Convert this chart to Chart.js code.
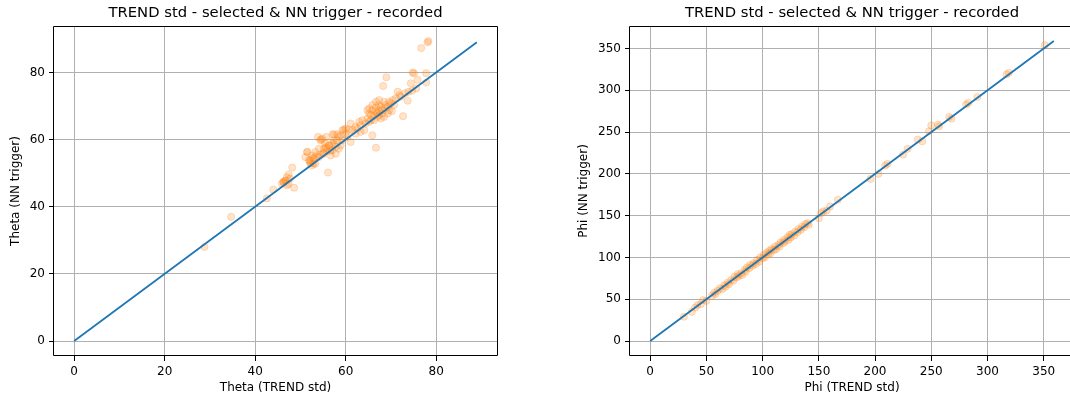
<!DOCTYPE html>
<html>
<head>
<meta charset="utf-8">
<script src="https://cdn.jsdelivr.net/npm/chart.js@4"></script>
<style>
  html, body { margin: 0; padding: 0; background: #fff; overflow: hidden; }
  #wrap { position: relative; width: 1070px; height: 401px; overflow: hidden; }
  canvas { position: absolute; top: 0; }
  #chartTheta { left: 0; }
  #chartPhi { left: 535px; }
</style>
</head>
<body>
<div id="wrap">
  <canvas id="chartTheta" width="535" height="401"></canvas>
  <canvas id="chartPhi" width="545" height="401"></canvas>
</div>
<script>
// theta: TREND std (x) vs NN trigger (y)
var thetaTrend = [28.8, 34.7, 42.6, 44.0, 45.9, 46.6, 47.7, 47.4, 48.2, 48.6, 47.0, 46.2, 51.5, 56.1,
  52.1, 52.8, 53.5, 54.3, 55.0, 55.7, 55.4, 54.6, 53.9, 55.7, 57.1, 58.2, 59.3, 60.0, 55.1, 56.6,
  56.3, 57.4, 52.9, 52.2,
  78.3, 78.1, 76.7, 74.8, 75.1, 77.8, 69.0, 68.3, 74.4, 75.6, 74.7, 77.8, 75.9, 73.7, 73.1, 73.9,
  72.7, 71.5, 70.4, 69.6, 70.7, 70.2, 69.3, 68.5, 67.4, 66.7, 65.9, 65.6, 65.2, 66.3, 67.0, 68.1,
  68.7, 67.4, 66.7, 67.8, 65.9, 66.7, 64.1, 63.3, 62.2, 61.1, 60.7, 59.6, 60.4, 61.1, 59.3, 58.5,
  57.4, 57.0, 56.3, 55.6, 54.8, 54.4, 55.2, 55.9, 57.0, 57.8, 56.7, 54.1, 53.0, 52.2, 51.5, 53.3,
  52.6, 51.9, 51.1, 47.0, 46.3, 47.4, 46.7,
  64.8, 63.7, 63.0, 63.3, 64.4, 65.2, 65.6, 66.3, 67.0, 67.4, 68.1, 68.9, 69.6, 70.0, 67.4, 66.7,
  65.9, 65.2, 64.8, 71.1, 71.9, 72.2, 67.8, 68.5, 69.3, 62.2, 61.5, 62.6, 60.0, 58.9, 58.1, 58.9,
  57.8, 58.5, 57.4, 54.1, 53.3, 52.6];
var thetaNN = [28.0, 37.0, 42.5, 45.1, 46.9, 47.7, 48.4, 49.6, 51.7, 45.7, 46.4, 47.4, 56.4, 50.2,
  54.0, 54.5, 55.0, 55.5, 56.0, 57.5, 59.0, 60.0, 60.8, 60.8, 61.6, 61.6, 62.8, 63.3, 55.7, 56.7,
  58.2, 58.7, 52.9, 52.9,
  89.4, 89.0, 87.3, 80.0, 79.8, 79.8, 78.6, 76.0, 76.8, 75.3, 74.6, 77.0, 77.8, 71.6, 73.8, 74.3,
  67.0, 74.3, 71.8, 71.3, 70.3, 68.5, 69.8, 71.3, 70.3, 68.3, 68.8, 67.3, 69.3, 67.3, 66.8, 67.8,
  69.3, 68.8, 69.6, 69.8, 61.3, 57.6, 62.8, 62.3, 61.8, 64.8, 63.0, 63.0, 60.8, 59.3, 59.8, 60.8,
  61.6, 58.8, 58.3, 57.8, 60.3, 59.8, 57.3, 56.6, 56.8, 55.8, 55.3, 54.8, 54.3, 53.3, 56.3, 52.8,
  52.3, 53.8, 54.8, 48.8, 47.3, 46.8, 47.8,
  66.3, 65.8, 65.3, 64.3, 64.8, 65.3, 65.8, 65.8, 68.0, 67.3, 68.8, 70.3, 68.8, 70.8, 71.8, 71.3,
  70.3, 67.8, 68.8, 72.3, 73.3, 72.8, 66.3, 66.8, 67.8, 63.8, 62.8, 63.3, 61.8, 61.3, 59.8, 58.3,
  57.8, 57.3, 59.8, 57.3, 56.3, 55.3];

// phi: TREND std (x) vs NN trigger (y)
var phiTrend = [30, 37, 40, 42, 45, 47, 50, 55, 57, 58, 60, 62, 64, 66, 67, 69, 70, 72, 74, 75,
  77, 78, 79, 81, 82, 84, 85, 86, 88, 89, 91, 92, 94, 95, 97, 98, 100, 101, 102, 104,
  105, 106, 107, 108, 110, 111, 112, 114, 115, 116, 118, 119, 120, 122, 123, 124, 125, 126, 128, 129,
  131, 132, 134, 135, 137, 138, 140, 141, 150, 152, 154, 157, 160, 167, 196, 203, 209, 211, 225, 229,
  238, 242, 248, 250, 256, 257, 266, 268, 281, 283, 291, 317, 319, 351];
var phiNN = [29, 35, 40, 43, 44, 49, 48, 54, 58, 56, 60, 63, 62, 67, 65, 70, 68, 73, 72, 77,
  76, 80, 78, 81, 79, 85, 83, 88, 87, 91, 90, 93, 92, 97, 95, 100, 99, 103, 100, 106,
  104, 108, 105, 110, 109, 113, 110, 115, 113, 118, 117, 121, 119, 124, 121, 127, 124, 128, 126, 131,
  130, 134, 133, 137, 136, 140, 141, 139, 147, 153, 155, 156, 161, 169, 194, 200, 210, 212, 223, 230,
  241, 239, 251, 258, 259, 257, 268, 266, 283, 285, 292, 319, 321, 354];

// identity line end points
var thetaLine = [0, 89];
var phiLine = [0, 359];

var thetaTicks = [0, 20, 40, 60, 80];
var phiTicks = [0, 50, 100, 150, 200, 250, 300, 350];

Chart.defaults.font.family = "'DejaVu Sans', sans-serif";
Chart.defaults.font.size = 12;
Chart.defaults.color = '#000';

function toPoints(xs, ys) {
    return xs.map(function(x, i) { return {x: x, y: ys[i]}; });
}

// matplotlib style box around the plot area
var framePlugin = {
    id: 'frame',
    afterDraw: function(chart) {
        var a = chart.chartArea, ctx = chart.ctx;
        var l = Math.round(a.left) - 0.5, r = Math.round(a.right) + 0.5;
        var t = Math.round(a.top) + 0.5, b = Math.round(a.bottom) - 0.5;
        ctx.save();
        ctx.lineWidth = 1;
        ctx.strokeStyle = '#000';
        ctx.beginPath();
        ctx.moveTo(l, t); ctx.lineTo(r, t); ctx.lineTo(r, b); ctx.lineTo(l, b);
        ctx.closePath();
        ctx.stroke();
        ctx.restore();
    }
};

function axis(ticks, min, max, title, isX, size, titlePad) {
    return {
        type: 'linear',
        position: isX ? 'bottom' : 'left',
        min: min,
        max: max,
        afterBuildTicks: function(s) {
            s.ticks = ticks.map(function(v) { return {value: v}; });
        },
        afterFit: function(s) {
            if (isX) s.height = size; else s.width = size;
        },
        grid: {
            color: '#b0b0b0',
            lineWidth: 1,
            tickColor: '#000',
            tickLength: 5
        },
        border: { display: false },
        ticks: { padding: 4, font: { size: 12 }, color: '#000' },
        title: {
            display: true,
            text: title,
            font: { size: 12 },
            color: '#000',
            padding: isX ? { top: 0, bottom: titlePad } : { top: titlePad, bottom: 0 }
        }
    };
}

function makeChart(id, xs, ys, line, ticks, lo, hi, xTitle, yTitle, yWidth, yTitlePad, padRight) {
    var ctx = document.getElementById(id).getContext('2d');
    return new Chart(ctx, {
        type: 'scatter',
        data: {
            datasets: [{
                type: 'line',
                data: toPoints(line, line),
                borderColor: '#1f77b4',
                borderWidth: 1.8,
                pointRadius: 0,
                fill: false
            }, {
                data: toPoints(xs, ys),
                backgroundColor: 'rgba(255, 127, 14, 0.22)',
                borderColor: 'rgba(255, 127, 14, 0.22)',
                borderWidth: 1,
                pointRadius: 3.6
            }]
        },
        options: {
            responsive: false,
            animation: false,
            devicePixelRatio: 1,
            layout: { padding: { left: 0, top: 0, right: padRight, bottom: 0 } },
            plugins: {
                legend: { display: false },
                tooltip: { enabled: false },
                title: {
                    display: true,
                    text: 'TREND std - selected & NN trigger - recorded',
                    fullSize: false,
                    font: { size: 14.8, weight: 'normal' },
                    color: '#000',
                    padding: { top: 3.8, bottom: 4.44 }
                }
            },
            scales: {
                x: axis(ticks, lo[0], hi[0], xTitle, true, 45, 6),
                y: axis(ticks, lo[1], hi[1], yTitle, false, yWidth, yTitlePad)
            }
        },
        plugins: [framePlugin]
    });
}

document.addEventListener('DOMContentLoaded', function() {
    makeChart('chartTheta', thetaTrend, thetaNN, thetaLine, thetaTicks,
              [-4.45, -4.47], [93.45, 93.87],
              'Theta (TREND std)', 'Theta (NN trigger)', 54, 9, 38);
    makeChart('chartPhi', phiTrend, phiNN, phiLine, phiTicks,
              [-17.95, -17.95], [376.95, 376.95],
              'Phi (TREND std)', 'Phi (NN trigger)', 95, 42, 6);
});
</script>
</body>
</html>
